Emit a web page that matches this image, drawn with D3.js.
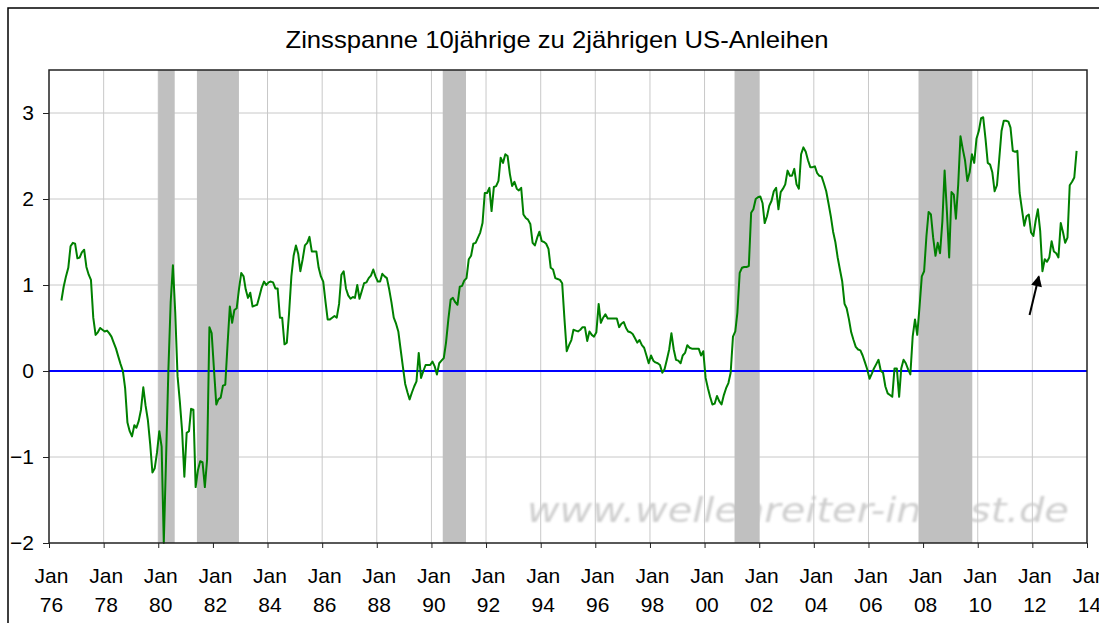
<!DOCTYPE html>
<html>
<head>
<meta charset="utf-8">
<script src="https://cdn.jsdelivr.net/npm/d3@7"></script>
<style>
  body { margin: 0; background: #fff; }
  svg { display: block; font-family: "Liberation Sans", Arial, sans-serif; }
</style>
</head>
<body>
<svg id="chart" width="1099" height="623"></svg>
<script>
// monthly spread 10y - 2y, starting June 1976
const firstMonth = [1976, 5];
const spread = [
  0.82, 0.98, 1.10, 1.20, 1.45, 1.49, 1.48,                               // 1976 Jun-Dec
  1.31, 1.32, 1.38, 1.41, 1.21, 1.12, 1.06, 0.62, 0.42, 0.45, 0.50, 0.48, // 1977
  0.46, 0.47, 0.44, 0.40, 0.33, 0.26, 0.17, 0.08, 0.00, -0.20, -0.60, -0.70,
  -0.76, -0.63, -0.66, -0.58, -0.45, -0.19, -0.40, -0.57, -0.85, -1.18, -1.13, -0.95,
  -0.70, -0.88, -2.00, -1.00, 0.00, 0.80, 1.23, 0.68, -0.06, -0.35, -0.70, -1.23, // 1980
  -0.72, -0.70, -0.44, -0.45, -1.35, -1.15, -1.05, -1.06, -1.35, -1.03, 0.51, 0.44,
  0.02, -0.39, -0.33, -0.31, -0.17, -0.16, 0.30, 0.75, 0.56, 0.71, 0.73, 0.95,
  1.14, 1.10, 0.95, 0.85, 0.91, 0.75, 0.76, 0.77, 0.87, 0.97, 1.04, 1.00,
  1.03, 1.04, 1.03, 0.96, 0.96, 0.62, 0.62, 0.31, 0.33, 0.67, 1.10, 1.34,
  1.46, 1.36, 1.16, 1.30, 1.46, 1.49, 1.56, 1.39, 1.39, 1.39, 1.20, 1.10, // 1985
  1.04, 0.80, 0.60, 0.60, 0.62, 0.64, 0.62, 0.78, 1.12, 1.16, 0.96, 0.88,
  0.84, 0.86, 0.85, 1.00, 0.84, 0.93, 1.02, 1.03, 1.08, 1.11, 1.18, 1.10,
  1.04, 1.04, 1.13, 1.10, 1.08, 0.95, 0.80, 0.62, 0.55, 0.46, 0.25, 0.05,
  -0.15, -0.25, -0.33, -0.25, -0.18, -0.12, 0.21, -0.08, 0.00, 0.07, 0.07, 0.07,
  0.11, 0.05, -0.04, 0.09, 0.12, 0.15, 0.33, 0.60, 0.83, 0.85, 0.80, 0.77, // 1990
  0.98, 0.99, 1.05, 1.08, 1.30, 1.34, 1.48, 1.49, 1.55, 1.61, 1.72, 2.07,
  2.07, 2.13, 1.86, 2.14, 2.15, 2.21, 2.48, 2.42, 2.52, 2.50, 2.29, 2.15,
  2.20, 2.12, 2.10, 2.13, 1.82, 1.78, 1.76, 1.71, 1.49, 1.46, 1.55, 1.62,
  1.51, 1.50, 1.48, 1.42, 1.20, 1.18, 1.08, 1.07, 1.06, 1.02, 0.60, 0.23,
  0.30, 0.36, 0.48, 0.47, 0.46, 0.48, 0.51, 0.51, 0.35, 0.46, 0.42, 0.40, // 1995
  0.45, 0.78, 0.56, 0.62, 0.66, 0.61, 0.61, 0.61, 0.61, 0.61, 0.51, 0.55,
  0.57, 0.50, 0.46, 0.45, 0.43, 0.38, 0.33, 0.36, 0.30, 0.27, 0.18, 0.09,
  0.18, 0.12, 0.10, 0.09, 0.07, -0.02, 0.02, 0.13, 0.25, 0.44, 0.25, 0.13,
  0.12, 0.09, 0.18, 0.21, 0.30, 0.27, 0.26, 0.26, 0.26, 0.26, 0.18, 0.23,
  -0.08, -0.20, -0.30, -0.39, -0.38, -0.29, -0.35, -0.39, -0.28, -0.20, -0.14, -0.02, // 2000
  0.40, 0.46, 0.68, 1.14, 1.20, 1.21, 1.21, 1.22, 1.84, 1.88, 2.00, 2.02,
  2.03, 1.95, 1.72, 1.80, 1.92, 1.98, 2.09, 2.13, 1.88, 2.08, 2.12, 2.17,
  2.33, 2.27, 2.27, 2.35, 2.17, 2.12, 2.52, 2.60, 2.55, 2.45, 2.37, 2.37,
  2.38, 2.30, 2.27, 2.26, 2.18, 2.09, 1.95, 1.80, 1.62, 1.50, 1.32, 1.18,
  1.04, 0.78, 0.73, 0.60, 0.45, 0.36, 0.28, 0.25, 0.24, 0.18, 0.10, 0.02, // 2005
  -0.09, -0.03, 0.03, 0.08, 0.13, 0.00, -0.02, -0.18, -0.26, -0.28, -0.30, 0.03,
  0.03, -0.30, 0.03, 0.13, 0.09, 0.02, -0.04, 0.40, 0.60, 0.42, 0.75, 1.10,
  1.16, 1.57, 1.85, 1.82, 1.55, 1.34, 1.49, 1.37, 1.74, 2.33, 1.85, 1.32,
  2.08, 2.05, 1.77, 2.17, 2.73, 2.58, 2.45, 2.21, 2.31, 2.52, 2.42, 2.70,
  2.79, 2.94, 2.95, 2.70, 2.42, 2.40, 2.31, 2.09, 2.16, 2.46, 2.79, 2.91, // 2010
  2.91, 2.90, 2.83, 2.56, 2.55, 2.56, 2.07, 1.88, 1.69, 1.80, 1.82, 1.61,
  1.57, 1.75, 1.88, 1.63, 1.16, 1.30, 1.27, 1.32, 1.51, 1.39, 1.37, 1.32,
  1.72, 1.61, 1.49, 1.55, 2.16, 2.20, 2.25, 2.56                          // 2013 Jan-Aug
];

// shaded recessions (start, end)
const recessions = [
  ["1980-01-01", "1980-08-08"],
  ["1981-06-01", "1982-12-15"],
  ["1990-06-01", "1991-04-08"],
  ["2001-02-05", "2001-12-31"],
  ["2007-11-01", "2009-10-20"]
];

const tickYears = d3.range(1976, 2015, 2);
const yTicks = [-2, -1, 0, 1, 2, 3];
const title = "Zinsspanne 10jährige zu 2jährigen US-Anleihen";
const watermark = "www.wellenreiter-invest.de";
// arrow annotation: from [date, value] to [date, value]
const arrowFrom = ["2011-11-25", 0.65];
const arrowTo = ["2012-03-28", 1.10];

const svg = d3.select("#chart"),
    margin = { top: 70, right: 12, bottom: 80, left: 49 },
    width = +svg.attr("width") - margin.left - margin.right,
    height = +svg.attr("height") - margin.top - margin.bottom;

const parse = d3.timeParse("%Y-%m-%d");
const data = spread.map((v, i) => ({ time: new Date(firstMonth[0], firstMonth[1] + i, 15), value: v }));

const x = d3.scaleTime()
    .domain([new Date(1976, 0, 1), new Date(2014, 0, 1)])
    .range([0, 1038]);
const y = d3.scaleLinear().domain([-2, 3.5]).range([473, 0]);

const defs = svg.append("defs");
defs.append("filter").attr("id", "blur")
  .append("feGaussianBlur").attr("stdDeviation", 1.1);
defs.append("marker")
    .attr("id", "head")
    .attr("viewBox", "0 0 10 10")
    .attr("refX", 9).attr("refY", 5)
    .attr("markerWidth", 14).attr("markerHeight", 11)
    .attr("markerUnits", "userSpaceOnUse")
    .attr("orient", "auto")
  .append("path").attr("d", "M0,0L10,5L0,10z").attr("fill", "#000");

// outer frame
svg.append("path")
    .attr("d", "M8,700V8H1200")
    .attr("fill", "none").attr("stroke", "#000").attr("stroke-width", 1.5);

svg.append("text")
    .attr("x", 557).attr("y", 48)
    .attr("text-anchor", "middle")
    .attr("font-size", 24)
    .attr("textLength", 543).attr("lengthAdjust", "spacingAndGlyphs")
    .attr("fill", "#000")
    .text(title);

const g = svg.append("g").attr("transform", `translate(${margin.left},${margin.top})`);

// watermark
g.append("text")
    .attr("x", x(new Date(1993, 6, 1))).attr("y", y(-1.75))
    .attr("font-family", "DejaVu Sans, Verdana, sans-serif")
    .attr("font-style", "italic")
    .attr("font-size", 34)
    .attr("textLength", 542).attr("lengthAdjust", "spacingAndGlyphs")
    .attr("fill", "#cfcfcf")
    .attr("filter", "url(#blur)")
    .text(watermark);

// grid
g.append("g").selectAll("line")
  .data(tickYears.slice(1, -1))
  .join("line")
    .attr("x1", d => x(new Date(d, 0, 1))).attr("x2", d => x(new Date(d, 0, 1)))
    .attr("y1", 0).attr("y2", 473)
    .attr("stroke", "#c8c8c8").attr("stroke-width", 1);
g.append("g").selectAll("line")
  .data(yTicks.slice(1))
  .join("line")
    .attr("x1", 0).attr("x2", 1038)
    .attr("y1", d => y(d)).attr("y2", d => y(d))
    .attr("stroke", "#c8c8c8").attr("stroke-width", 1);

// recessions
g.append("g").selectAll("rect")
  .data(recessions)
  .join("rect")
    .attr("x", d => x(parse(d[0])))
    .attr("width", d => x(parse(d[1])) - x(parse(d[0])))
    .attr("y", 0).attr("height", 473)
    .attr("fill", "#c0c0c0");

// zero line
g.append("line")
    .attr("x1", 0).attr("x2", 1038)
    .attr("y1", y(0)).attr("y2", y(0))
    .attr("stroke", "#0000ff").attr("stroke-width", 2);

const line = d3.line()
    .x(d => x(d.time))
    .y(d => y(d.value));

g.append("path")
    .datum(data)
    .attr("d", line)
    .attr("fill", "none")
    .attr("stroke", "#008000")
    .attr("stroke-width", 2)
    .attr("stroke-linejoin", "round");

// plot border
g.append("rect")
    .attr("x", 0).attr("y", 0).attr("width", 1038).attr("height", 473)
    .attr("fill", "none").attr("stroke", "#222").attr("stroke-width", 1.5);

// axes
const yAxis = g.append("g")
    .call(d3.axisLeft(y).tickValues(yTicks).tickSize(6).tickPadding(9).tickFormat(d3.format("d")));
yAxis.select(".domain").remove();
yAxis.selectAll("line").attr("stroke", "#222");
yAxis.selectAll("text").attr("font-size", 21).attr("fill", "#000")
    .attr("font-family", "Liberation Sans, Arial, sans-serif");

const xAxis = g.append("g")
    .attr("transform", `translate(0,473)`)
    .call(d3.axisBottom(x).tickValues(tickYears.map(t => new Date(t, 0, 1))).tickSize(5).tickFormat(""));
xAxis.select(".domain").remove();
xAxis.selectAll("line").attr("stroke", "#222");

const lab = g.append("g").selectAll("text")
  .data(tickYears)
  .join("text")
    .attr("transform", d => `translate(${x(new Date(d, 0, 1)) + 2.5},0)`)
    .attr("text-anchor", "middle")
    .attr("font-size", 21)
    .attr("fill", "#000");
lab.append("tspan").attr("x", 0).attr("y", 513).text("Jan");
lab.append("tspan").attr("x", 0).attr("y", 542).text(d => String(d % 100).padStart(2, "0"));

// arrow
g.append("line")
    .attr("x1", x(parse(arrowFrom[0]))).attr("y1", y(arrowFrom[1]))
    .attr("x2", x(parse(arrowTo[0]))).attr("y2", y(arrowTo[1]))
    .attr("stroke", "#000").attr("stroke-width", 2)
    .attr("marker-end", "url(#head)");
</script>
</body>
</html>
